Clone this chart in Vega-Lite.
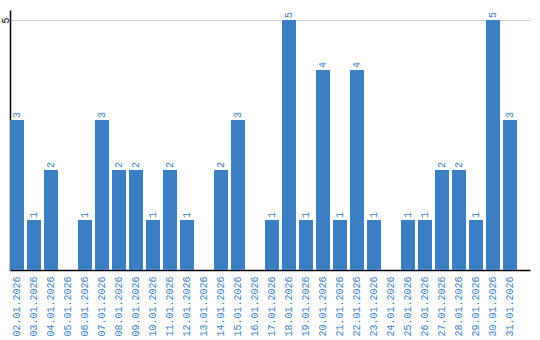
{
  "$schema": "https://vega.github.io/schema/vega-lite/v6.json",
  "width": 520,
  "height": 260,
  "autosize": {"type": "none"},
  "padding": {"left": 10, "top": 10, "right": 10, "bottom": 70},
  "background": "white",
  "config": {"view": {"stroke": null}},
  "data": {"values": [
    {"d": "02.01.2026", "v": 3}, {"d": "03.01.2026", "v": 1}, {"d": "04.01.2026", "v": 2},
    {"d": "05.01.2026", "v": 0}, {"d": "06.01.2026", "v": 1}, {"d": "07.01.2026", "v": 3},
    {"d": "08.01.2026", "v": 2}, {"d": "09.01.2026", "v": 2}, {"d": "10.01.2026", "v": 1},
    {"d": "11.01.2026", "v": 2}, {"d": "12.01.2026", "v": 1}, {"d": "13.01.2026", "v": 0},
    {"d": "14.01.2026", "v": 2}, {"d": "15.01.2026", "v": 3}, {"d": "16.01.2026", "v": 0},
    {"d": "17.01.2026", "v": 1}, {"d": "18.01.2026", "v": 5}, {"d": "19.01.2026", "v": 1},
    {"d": "20.01.2026", "v": 4}, {"d": "21.01.2026", "v": 1}, {"d": "22.01.2026", "v": 4},
    {"d": "23.01.2026", "v": 1}, {"d": "24.01.2026", "v": 0}, {"d": "25.01.2026", "v": 1},
    {"d": "26.01.2026", "v": 1}, {"d": "27.01.2026", "v": 2}, {"d": "28.01.2026", "v": 2},
    {"d": "29.01.2026", "v": 1}, {"d": "30.01.2026", "v": 5}, {"d": "31.01.2026", "v": 3}
  ]},
  "encoding": {
    "x": {
      "field": "d", "type": "nominal", "sort": null,
      "scale": {"paddingInner": 0.1765, "paddingOuter": 0.382, "align": 0},
      "axis": {
        "title": null, "labelAngle": -90, "labelAlign": "right", "labelBaseline": "middle",
        "labelPadding": 6, "ticks": false, "domainColor": "#000", "domainWidth": 1.5,
        "labelFont": "Liberation Mono", "labelFontSize": 10, "labelColor": "#3b7ec2",
        "labelOverlap": false
      }
    },
    "y": {
      "field": "v", "type": "quantitative",
      "scale": {"domain": [0, 5.2], "nice": false},
      "axis": {
        "title": null, "values": [5], "ticks": false, "grid": true, "gridColor": "#cccccc",
        "gridWidth": 1, "domainColor": "#000", "domainWidth": 1.5,
        "labelAngle": -90, "labelAlign": "center", "labelBaseline": "middle", "labelPadding": 5,
        "labelFont": "Liberation Mono", "labelFontSize": 10, "labelColor": "#000"
      }
    }
  },
  "layer": [
    {"mark": {"type": "bar", "color": "#3b7ec2"}},
    {
      "transform": [{"filter": "datum.v > 0"}],
      "mark": {"type": "text", "angle": -90, "align": "left", "baseline": "middle", "dx": 2,
               "font": "Liberation Mono", "fontSize": 10, "color": "#3b7ec2"},
      "encoding": {"text": {"field": "v", "type": "quantitative"}}
    }
  ]
}
